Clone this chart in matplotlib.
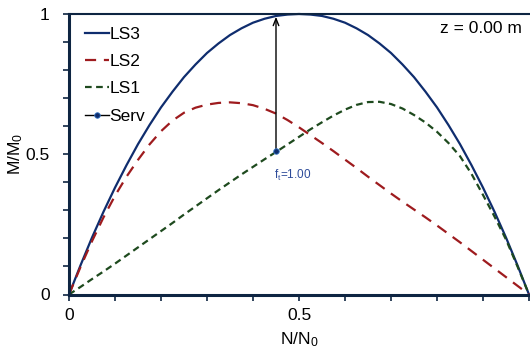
import matplotlib
matplotlib.use("Agg")
import matplotlib.pyplot as plt
from matplotlib.ticker import MultipleLocator, FixedLocator

plt.rcParams['font.family'] = ['Liberation Sans', 'DejaVu Sans']
plt.rcParams['mathtext.default'] = 'regular'

# Data (N/N0 grid)
N = [0.000, 0.025, 0.050, 0.075, 0.100, 0.125, 0.150, 0.175, 0.200, 0.225,
     0.250, 0.275, 0.300, 0.325, 0.350, 0.375, 0.400, 0.425, 0.450, 0.475,
     0.500, 0.525, 0.550, 0.575, 0.600, 0.625, 0.650, 0.675, 0.700, 0.725,
     0.750, 0.775, 0.800, 0.825, 0.850, 0.875, 0.900, 0.925, 0.950, 0.975, 1.000]
LS3 = [0.000, 0.104, 0.203, 0.295, 0.381, 0.461, 0.536, 0.604, 0.667, 0.723,
       0.775, 0.820, 0.861, 0.895, 0.925, 0.949, 0.969, 0.983, 0.993, 0.998,
       1.000, 0.998, 0.993, 0.983, 0.969, 0.949, 0.925, 0.895, 0.861, 0.820,
       0.775, 0.723, 0.667, 0.604, 0.536, 0.461, 0.381, 0.295, 0.203, 0.104, 0.000]
LS2 = [0.000, 0.098, 0.190, 0.275, 0.352, 0.420, 0.480, 0.535, 0.582, 0.620,
       0.648, 0.666, 0.677, 0.683, 0.685, 0.682, 0.675, 0.662, 0.645, 0.622,
       0.596, 0.568, 0.540, 0.511, 0.481, 0.451, 0.420, 0.390, 0.360, 0.331,
       0.303, 0.275, 0.246, 0.216, 0.186, 0.155, 0.124, 0.093, 0.062, 0.031, 0.000]
LS1 = [0.000, 0.027, 0.055, 0.082, 0.110, 0.139, 0.168, 0.197, 0.226, 0.255,
       0.285, 0.314, 0.343, 0.372, 0.400, 0.428, 0.455, 0.482, 0.508, 0.535,
       0.562, 0.589, 0.614, 0.638, 0.659, 0.676, 0.686, 0.687, 0.679, 0.663,
       0.640, 0.613, 0.580, 0.540, 0.493, 0.430, 0.355, 0.278, 0.196, 0.100, 0.000]
serv_N = [0.45]
serv_M = [0.51]
serv_label = "f$_t$=1.00"
arrow_top = 0.99
z_label = "z = 0.00 m"

navy = '#0F2D6E'
red = '#9E1B1E'
green = '#1E4A1E'
spine_col = '#0E2542'

fig = plt.figure(figsize=(5.30, 3.52), dpi=100)
ax = fig.add_axes([69/530, (352-294.5)/352, (529-69)/530, (294.5-14)/352])

ax.plot(N, LS3, color=navy, lw=1.6, label='LS3', clip_on=False)
ax.plot(N, LS2, color=red, lw=1.6, ls=(0, (5, 3.5)), label='LS2', clip_on=False)
ax.plot(N, LS1, color=green, lw=1.6, ls=(0, (3, 2)), label='LS1', clip_on=False)
ax.plot(serv_N, serv_M, color='black', lw=1, marker='o', markersize=4,
        markerfacecolor=navy, markeredgecolor='#3A7BC8', markeredgewidth=0.6,
        label='Serv', zorder=5)

ax.annotate('', xy=(serv_N[0], arrow_top), xytext=(serv_N[0], serv_M[0]),
            arrowprops=dict(arrowstyle='->,head_length=0.5,head_width=0.2',
                            color='black', lw=1.0, shrinkA=0, shrinkB=0))
ax.text(serv_N[0] - 0.005, serv_M[0] - 0.06, serv_label, color='#2E4C9A',
        fontsize=8.5, ha='left', va='top')

ax.text(0.985, 0.95, z_label, transform=ax.transAxes, ha='right', va='center',
        fontsize=12.5, color='black')

ax.set_xlim(0, 1)
ax.set_ylim(0, 1)
ax.xaxis.set_major_locator(FixedLocator([0, 0.5, 1.0]))
ax.set_xticklabels(['0', '0.5', ''])
ax.yaxis.set_major_locator(FixedLocator([0, 0.5, 1.0]))
ax.set_yticklabels(['0', '0.5', '1'])
ax.xaxis.set_minor_locator(MultipleLocator(0.1))
ax.yaxis.set_minor_locator(MultipleLocator(0.1))
ax.tick_params(which='both', direction='out', color=spine_col, width=1.2,
               labelsize=12.5)
ax.tick_params(which='both', length=4)
ax.tick_params(axis='y', which='major', pad=10)
ax.tick_params(axis='x', which='major', pad=6)

for s in ['left', 'bottom']:
    ax.spines[s].set_color(spine_col)
    ax.spines[s].set_linewidth(2.2)
ax.spines['top'].set_color(spine_col)
ax.spines['top'].set_linewidth(1.5)
ax.spines['right'].set_visible(False)

ax.set_xlabel('N/N$_0$', fontsize=12.5, labelpad=5)
ax.set_ylabel('M/M$_0$', fontsize=12.5, labelpad=0)

leg = ax.legend(loc='upper left', bbox_to_anchor=(0.02, 0.98), frameon=False,
                fontsize=12.5, handlelength=1.35, handletextpad=0.05,
                labelspacing=0.7, numpoints=1, borderaxespad=0)

fig.savefig('out.png', dpi=100)
